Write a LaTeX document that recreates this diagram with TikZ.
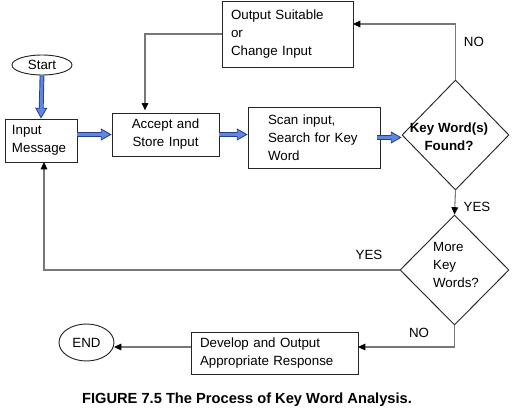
\documentclass[tikz,border=0pt]{standalone}
\usepackage{fontspec}
\setmainfont{Liberation Sans}
\usetikzlibrary{shapes.geometric,arrows.meta,calc}
\definecolor{ltblue}{RGB}{95,135,225}
\definecolor{dkblue}{RGB}{40,60,140}
\definecolor{lgray}{RGB}{120,120,120}
\begin{document}
\begin{tikzpicture}[x=0.75pt,y=-0.75pt,
  txt/.style={font=\fontsize{10}{13.5}\selectfont},
  box/.style={draw=black!85, line width=0.7pt, rectangle, inner sep=0pt, txt},
  dia/.style={draw=black!85, line width=0.7pt, diamond, inner sep=0pt},
  oval/.style={draw=black!85, line width=0.7pt, ellipse, inner sep=0pt, txt},
  conn/.style={draw=lgray, line width=0.8pt, -{Triangle[length=5.5pt,width=5pt,color=black]}},
  blockarr/.style={draw=dkblue, line width=3.6pt,
     -{Triangle[length=8pt,width=9pt,fill=ltblue,line width=0.6pt]},
     postaction={draw=ltblue, line width=2.2pt, -, shorten >=7.2pt}},
  lbl/.style={txt, inner sep=0pt}
]
\useasboundingbox (0,0) rectangle (512,414);

% nodes
\node[oval, minimum width=60*0.75pt, minimum height=20*0.75pt] (start) at (42,65) {Start};
\node[box, minimum width=72*0.75pt, minimum height=43*0.75pt, text width=58*0.75pt, align=left] (inmsg) at (41,140.5) {Input\\Message};
\node[box, minimum width=107*0.75pt, minimum height=43*0.75pt, text width=100*0.75pt, align=center] (accept) at (165.5,134.5) {Accept and\\Store Input};
\node[box, minimum width=132*0.75pt, minimum height=61*0.75pt, text width=92*0.75pt, align=left] (scan) at (314,137.5) {Scan input,\\Search for Key\\Word};
\node[box, minimum width=131*0.75pt, minimum height=66*0.75pt, text width=113*0.75pt, align=left] (out) at (287.5,34) {Output Suitable\\or\\Change Input};
\node[dia, minimum width=107*0.75pt, minimum height=110*0.75pt] (d1) at (455.5,135) {};
\node[txt, font=\fontsize{10}{13.5}\selectfont\bfseries, align=center, inner sep=0pt] (d1t) at (449,137) {Key Word(s)\\Found?};
\node[dia, minimum width=109*0.75pt, minimum height=110*0.75pt] (d2) at (454.5,270) {};
\node[txt, align=left, inner sep=0pt] (d2t) at (456,265) {More\\Key\\Words?};
\node[box, minimum width=167*0.75pt, minimum height=42*0.75pt, text width=149*0.75pt, align=left] (dev) at (274.5,353) {Develop and Output\\Appropriate Response};
\node[oval, minimum width=55*0.75pt, minimum height=37*0.75pt] (end) at (86.5,342.5) {END};

% caption
\node[font=\fontsize{11}{13}\selectfont\bfseries, inner sep=0pt] (cap) at (247,400) {FIGURE 7.5 The Process of Key Word Analysis.};

% labels
\node[lbl] (lno1) at (474,42) {NO};
\node[lbl] (lyes1) at (477,207) {YES};
\node[lbl] (lyes2) at (369,255) {YES};
\node[lbl] (lno2) at (419,333) {NO};

% helper coordinates
\coordinate (a1) at (145,113);
\coordinate (o1) at (353,24);
\coordinate (i1) at (44,162);
\coordinate (dv1) at (358,347);
\coordinate (dv2) at (191,347);
\coordinate (e1) at (114,347);

% block arrows
\draw[blockarr] (start.south) -- (inmsg.north);
\draw[blockarr] (inmsg.east |- accept.west) -- (accept.west);
\draw[blockarr] (accept.east) -- (accept.east -| scan.west);
\draw[blockarr] ($(scan.east)+(-3,0)$) -- (scan.east -| d1.west);

% thin connectors
\draw[conn, shorten >=2pt] (out.west) -| (a1);
\draw[conn] (d1.north) |- (o1);
\draw[conn] (d1.south) -- (d2.north);
\draw[conn] (d2.west) -| (i1);
\draw[conn] (d2.south) |- (dv1);
\draw[conn] (dv2) -- (e1);
\end{tikzpicture}
\end{document}
